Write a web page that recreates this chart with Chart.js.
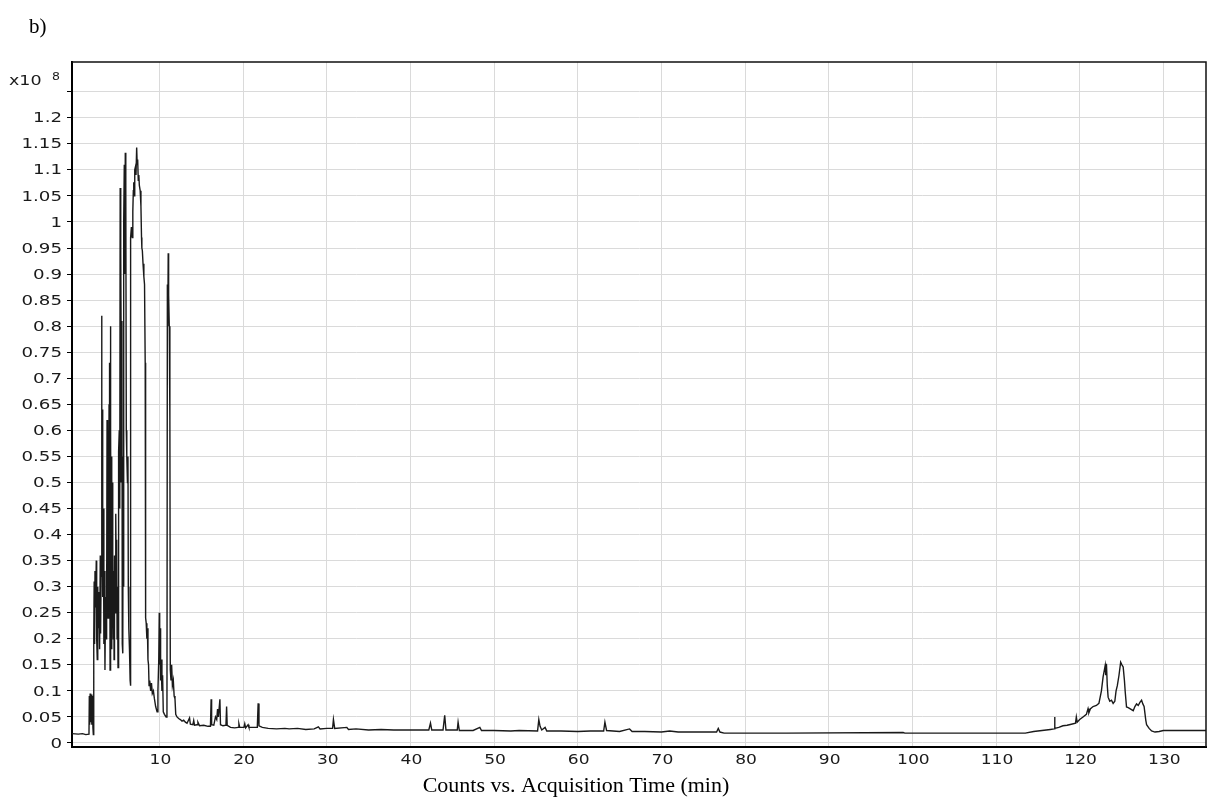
<!DOCTYPE html>
<html>
<head>
<meta charset="utf-8">
<script src="https://cdn.jsdelivr.net/npm/chart.js@4/dist/chart.umd.min.js"></script>
<style>
html, body { margin: 0; padding: 0; background: #fff; }
#wrap { position: relative; width: 1208px; height: 804px; }
</style>
</head>
<body>
<div id="wrap"><canvas id="tic"></canvas></div>
<script>
// acquisition time (min) and counts (x10^8)
var times = [
  -0.45, 0.3, 0.8, 1.2, 1.58, 1.62, 1.66, 1.72, 1.78, 1.86, 1.92, 1.98, 2.05, 2.1,
  2.15, 2.2, 2.25, 2.3, 2.38, 2.45, 2.5, 2.57, 2.63, 2.7, 2.78, 2.85, 2.93, 2.97,
  3.03, 3.09, 3.13, 3.17, 3.22, 3.3, 3.36, 3.42, 3.49, 3.56, 3.62, 3.69, 3.74, 3.78,
  3.82, 3.86, 3.9, 3.94, 3.98, 4.02, 4.06, 4.1, 4.13, 4.16, 4.2, 4.24, 4.28, 4.32,
  4.36, 4.4, 4.44, 4.49, 4.54, 4.58, 4.63, 4.7, 4.76, 4.8, 4.85, 4.89, 4.94, 5.0,
  5.05, 5.1, 5.14, 5.2, 5.26, 5.31, 5.35, 5.4, 5.45, 5.52, 5.56, 5.62, 5.66, 5.7,
  5.76, 5.8, 5.85, 5.92, 5.96, 6.0, 6.04, 6.1, 6.18, 6.24, 6.28, 6.34, 6.42, 6.5,
  6.54, 6.57, 6.65, 6.75, 6.82, 6.88, 6.93, 6.99, 7.05, 7.12, 7.2, 7.28, 7.34, 7.4,
  7.47, 7.54, 7.6, 7.7, 7.79, 7.86, 7.9, 7.96, 8.04, 8.14, 8.22, 8.3, 8.35, 8.42,
  8.5, 8.56, 8.63, 8.7, 8.76, 8.84, 8.95, 9.05, 9.15, 9.28, 9.4, 9.55, 9.72, 9.82,
  9.92, 9.98, 10.03, 10.08, 10.14, 10.2, 10.3, 10.38, 10.46, 10.6, 10.8, 10.9, 10.95, 11.0,
  11.05, 11.1, 11.18, 11.25, 11.3, 11.38, 11.46, 11.55, 11.66, 11.76, 11.86, 11.95, 12.1, 12.3,
  12.5, 12.7, 12.9, 13.1, 13.3, 13.6, 13.7, 14.0, 14.1, 14.2, 14.5, 14.6, 14.8, 15.3,
  15.8, 16.1, 16.18, 16.24, 16.5, 16.7, 16.85, 16.95, 17.05, 17.23, 17.3, 17.6, 17.95, 18.03,
  18.1, 18.5, 19.0, 19.4, 19.5, 19.6, 20.1, 20.2, 20.3, 20.6, 20.7, 21.4, 21.7, 21.8,
  21.9, 22.3, 23.0, 24.0, 25.0, 25.5, 26.5, 27.5, 28.5, 29.0, 29.2, 30.0, 30.7, 30.8,
  30.95, 32.4, 32.6, 33.5, 35, 36.5, 38, 40, 42.2, 42.4, 42.55, 43.9, 44.1, 44.25,
  45.6, 45.7, 45.85, 47.5, 48.3, 48.5, 50, 52, 53, 55.2, 55.35, 55.5, 55.7, 56.1,
  56.3, 58, 60, 61.5, 63.1, 63.25, 63.45, 65, 66.2, 66.5, 68, 70, 71, 72,
  74, 76.6, 76.8, 77.0, 77.5, 85, 98.9, 99.1, 113.5, 114.5, 115.5, 116.5, 116.95, 117.0,
  117.05, 117.5, 118.0, 118.5, 119.0, 119.5, 119.6, 119.7, 120.0, 120.4, 120.8, 121.0, 121.1, 121.3,
  121.6, 122.0, 122.3, 122.6, 122.8, 122.95, 123.05, 123.12, 123.2, 123.3, 123.4, 123.6, 123.8, 124.0,
  124.2, 124.35, 124.5, 124.7, 124.9, 125.05, 125.2, 125.35, 125.45, 125.6, 125.8, 126.0, 126.4, 126.6,
  126.8, 127.0, 127.2, 127.4, 127.55, 127.7, 127.9, 128.0, 128.3, 128.6, 129.0, 129.5, 130.0, 135.2
];
var counts = [
  0.018, 0.017, 0.018, 0.016, 0.017, 0.09, 0.035, 0.095, 0.04, 0.093, 0.035, 0.09, 0.03, 0.016,
  0.2, 0.31, 0.19, 0.33, 0.26, 0.35, 0.2, 0.16, 0.3, 0.22, 0.29, 0.18, 0.36, 0.21,
  0.32, 0.82, 0.35, 0.64, 0.28, 0.45, 0.19, 0.33, 0.14, 0.28, 0.2, 0.26, 0.62, 0.3,
  0.6, 0.24, 0.6, 0.3, 0.65, 0.45, 0.73, 0.14, 0.8, 0.28, 0.6, 0.2, 0.55, 0.18,
  0.5, 0.22, 0.36, 0.2, 0.33, 0.16, 0.36, 0.25, 0.35, 0.44, 0.3, 0.39, 0.2, 0.3,
  0.145, 0.2, 0.56, 0.6, 0.45, 1.065, 0.5, 0.94, 0.68, 0.81, 0.19, 0.172, 0.55, 0.3,
  1.0, 1.11, 0.9, 1.133, 0.98, 1.065, 0.6, 0.55, 0.5, 0.55, 0.3, 0.22, 0.18, 0.12,
  0.11, 0.97, 0.99, 0.97, 1.02, 1.06, 1.076, 1.05, 1.1, 1.105, 1.09, 1.143, 1.11, 1.12,
  1.08, 1.09, 1.07, 1.06, 1.03, 0.97, 0.95, 0.945, 0.92, 0.895, 0.88, 0.73, 0.24, 0.23,
  0.2, 0.22, 0.16, 0.15, 0.11, 0.12, 0.1, 0.115, 0.095, 0.1, 0.085, 0.07, 0.06, 0.1,
  0.16, 0.25, 0.15, 0.22, 0.12, 0.16, 0.1, 0.13, 0.06, 0.055, 0.05, 0.052, 0.88, 0.8,
  0.94, 0.86, 0.8, 0.62, 0.14, 0.12, 0.15, 0.11, 0.12, 0.09, 0.085, 0.055, 0.05, 0.047,
  0.045, 0.042, 0.044, 0.04, 0.038, 0.048, 0.036, 0.035, 0.043, 0.034, 0.035, 0.04, 0.033, 0.034,
  0.032, 0.032, 0.084, 0.035, 0.034, 0.05, 0.045, 0.065, 0.05, 0.084, 0.035, 0.033, 0.034, 0.07,
  0.034, 0.03, 0.029, 0.03, 0.037, 0.03, 0.03, 0.037, 0.029, 0.035, 0.03, 0.03, 0.03, 0.076,
  0.033, 0.03, 0.028, 0.027, 0.028, 0.027, 0.028, 0.026, 0.027, 0.031, 0.027, 0.028, 0.028, 0.045,
  0.028, 0.03, 0.026, 0.027, 0.025, 0.026, 0.025, 0.025, 0.025, 0.038, 0.025, 0.025, 0.053, 0.025,
  0.025, 0.04, 0.024, 0.024, 0.03, 0.024, 0.024, 0.023, 0.024, 0.023, 0.045, 0.032, 0.025, 0.03,
  0.023, 0.023, 0.022, 0.023, 0.023, 0.04, 0.024, 0.022, 0.027, 0.022, 0.022, 0.021, 0.023, 0.021,
  0.021, 0.021, 0.028, 0.021, 0.019, 0.019, 0.02, 0.019, 0.019, 0.022, 0.024, 0.026, 0.027, 0.05,
  0.028, 0.03, 0.033, 0.034, 0.036, 0.038, 0.05, 0.04, 0.045, 0.05, 0.055, 0.066, 0.058, 0.066,
  0.07, 0.072, 0.076, 0.1, 0.127, 0.14, 0.149, 0.13, 0.152, 0.11, 0.088, 0.08, 0.082, 0.076,
  0.08, 0.1, 0.11, 0.13, 0.155, 0.15, 0.146, 0.12, 0.097, 0.069, 0.068, 0.066, 0.062, 0.07,
  0.075, 0.072, 0.078, 0.082, 0.075, 0.07, 0.044, 0.035, 0.028, 0.023, 0.021, 0.022, 0.024, 0.024
];
var xTicks = [10, 20, 30, 40, 50, 60, 70, 80, 90, 100, 110, 120, 130];
var yTicks = [0, 0.05, 0.1, 0.15, 0.2, 0.25, 0.3, 0.35, 0.4, 0.45, 0.5, 0.55, 0.6,
  0.65, 0.7, 0.75, 0.8, 0.85, 0.9, 0.95, 1, 1.05, 1.1, 1.15, 1.2, 1.25];
var panelLabel = 'b)';
var xTitle = 'Counts vs. Acquisition Time (min)';

var points = [];
for (var i = 0; i < times.length; i++) {
  points.push({x: times[i], y: counts[i]});
}

var gridGrey = '#dadada';
var tickFont = '14px "DejaVu Sans"';

function yLabel(v) {
  return v === 1.25 ? '' : String(+v.toFixed(2));
}

// the instrument software prints its tick labels wide, so they are stretched here
function wideText(ctx, txt, x, y, align, sx) {
  ctx.save();
  ctx.translate(x, y);
  ctx.scale(sx, 1);
  ctx.textAlign = align;
  ctx.fillText(txt, 0, 0);
  ctx.restore();
}

// frame, tick labels, panel letter, exponent and axis caption
var extras = {
  id: 'extras',
  afterDraw: function(chart) {
    var ctx = chart.ctx;
    var a = chart.chartArea;
    var xs = chart.scales.x, ys = chart.scales.y;
    ctx.save();
    ctx.strokeStyle = '#111';
    ctx.lineWidth = 1.5;
    ctx.beginPath();
    ctx.moveTo(a.left, a.top);
    ctx.lineTo(a.right, a.top);
    ctx.lineTo(a.right, a.bottom);
    ctx.stroke();

    ctx.fillStyle = '#1a1a1a';
    ctx.font = tickFont;
    ctx.textBaseline = 'middle';
    yTicks.forEach(function(v) {
      wideText(ctx, yLabel(v), 62, ys.getPixelForValue(v) + 1, 'right', 1.3);
    });
    xTicks.forEach(function(v) {
      wideText(ctx, String(v), xs.getPixelForValue(v) + 1, 760, 'center', 1.22);
    });

    ctx.textBaseline = 'alphabetic';
    ctx.font = '14px "DejaVu Sans"';
    wideText(ctx, 'x10', 9, 85, 'left', 1.25);
    ctx.font = '10px "DejaVu Sans"';
    wideText(ctx, '8', 52, 80, 'left', 1.25);

    ctx.fillStyle = '#000';
    ctx.font = '21px "Liberation Serif"';
    ctx.textAlign = 'left';
    ctx.fillText(panelLabel, 29, 33);
    ctx.font = '22px "Liberation Serif"';
    ctx.textAlign = 'center';
    ctx.fillText(xTitle, 576, 792);
    ctx.restore();
  }
};

new Chart(document.getElementById('tic'), {
  type: 'line',
  data: {
    datasets: [{
      data: points,
      borderColor: '#1a1a1a',
      borderWidth: 1.4,
      pointRadius: 0,
      tension: 0,
      fill: false
    }]
  },
  options: {
    responsive: true,
    maintainAspectRatio: false,
    animation: false,
    layout: {padding: {top: 62, right: 2, left: 0, bottom: 0}},
    plugins: {legend: {display: false}, tooltip: {enabled: false}},
    scales: {
      x: {
        type: 'linear',
        min: -0.45,
        max: 135.1,
        afterBuildTicks: function(s) { s.ticks = xTicks.map(function(v) { return {value: v}; }); },
        afterFit: function(s) { s.height = 57; },
        ticks: {display: false, autoSkip: false, maxRotation: 0},
        grid: {color: gridGrey, lineWidth: 1, drawTicks: false},
        border: {color: '#000', width: 2}
      },
      y: {
        type: 'linear',
        min: -0.0077,
        max: 1.307,
        afterBuildTicks: function(s) { s.ticks = yTicks.map(function(v) { return {value: v}; }); },
        afterFit: function(s) { s.width = 72; },
        ticks: {display: false},
        grid: {color: gridGrey, lineWidth: 1, tickColor: '#000', tickLength: 5},
        border: {color: '#000', width: 2}
      }
    }
  },
  plugins: [extras]
});
</script>
</body>
</html>
